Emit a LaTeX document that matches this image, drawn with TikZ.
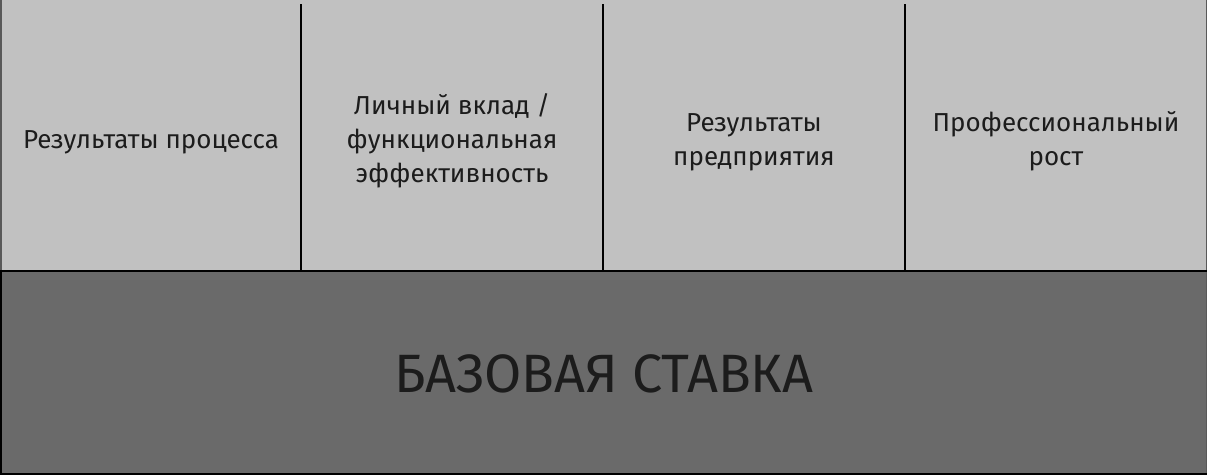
\documentclass[tikz,border=0pt]{standalone}
\usepackage{fontspec}
\setmainfont{Fira Sans}
\definecolor{topgray}{HTML}{C1C1C1}
\definecolor{basegray}{HTML}{6A6A6A}
\definecolor{ink}{HTML}{1C1C1C}
\tikzset{
  lbl/.style={text=ink, align=center, font=\fontsize{26}{34}\selectfont},
  big/.style={text=ink, font=\fontsize{54}{60}\selectfont},
  sep/.style={draw=black, line width=2pt},
}
\begin{document}
\begin{tikzpicture}[x=1pt,y=-1pt]
\useasboundingbox (0,0) rectangle (1207,475);
\fill[topgray] (0,0) rectangle (1207,271);
\fill[basegray] (0,271) rectangle (1207,475);
\draw[gray!70!black, line width=1.5pt] (0.75,0) -- (0.75,271);
\draw[gray!70!black, line width=1.5pt] (1206.25,0) -- (1206.25,475);
\draw[black, line width=2pt] (1,271) -- (1,475);
\draw[black, line width=2pt] (0,474) -- (1207,474);
\coordinate (s0t) at (301,4); \coordinate (s0b) at (301,271);
\coordinate (s1t) at (603,4); \coordinate (s1b) at (603,271);
\coordinate (s2t) at (905,4); \coordinate (s2b) at (905,271);
\coordinate (hl) at (0,271); \coordinate (hr) at (1207,271);
\draw[sep] (s0t) -- (s0b);
\draw[sep] (s1t) -- (s1b);
\draw[sep] (s2t) -- (s2b);
\draw[sep] (hl) -- (hr);
\node[lbl] (c1) at (151,142) {Результаты процесса};
\node[lbl] (c2) at (452,141) {Личный вклад /\\функциональная\\эффективность};
\node[lbl] (c3) at (754,142) {Результаты\\предприятия};
\node[lbl] (c4) at (1056,141) {Профессиональный\\рост};
\node[big] (base) at (604,374) {БАЗОВАЯ СТАВКА};
\end{tikzpicture}
\end{document}
